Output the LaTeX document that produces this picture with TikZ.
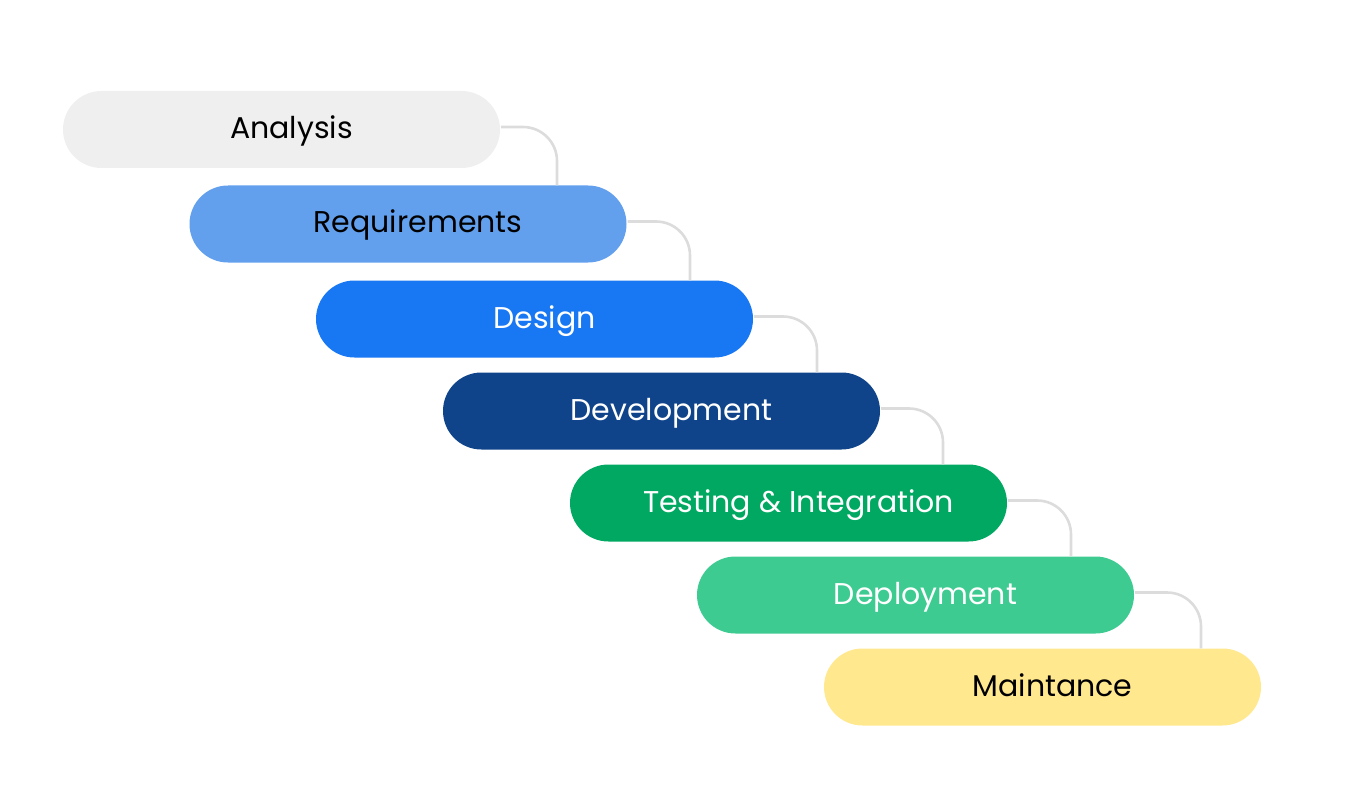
\documentclass[tikz,border=0pt]{standalone}
\usepackage{fontspec}
\setmainfont{Poppins}
\definecolor{cAna}{HTML}{EFEFEF}
\definecolor{cReq}{HTML}{62A0EE}
\definecolor{cDes}{HTML}{1877F2}
\definecolor{cDev}{HTML}{0F438A}
\definecolor{cTes}{HTML}{00A862}
\definecolor{cDep}{HTML}{3ECB92}
\definecolor{cMai}{HTML}{FFE88E}
\definecolor{cLine}{HTML}{DCDCDC}
\newcommand{\pilltext}[1]{\hspace*{20pt}\smash{\raisebox{-9pt}{#1}}}
\begin{document}
\begin{tikzpicture}[x=1pt,y=-1pt,
  pill/.style={draw=none, minimum width=437pt, minimum height=77pt, rounded corners=38.5pt, inner sep=0pt,
    font=\fontsize{30}{34}\selectfont, anchor=center},
  conn/.style={draw=cLine, line width=2.6pt, rounded corners=34pt}]
\useasboundingbox (0,0) rectangle (1366,797);
\node[pill, fill=cAna, text=black] (a) at (281.5,129.5) {\pilltext{Analysis}};
\node[pill, fill=cReq, text=black] (b) at (408,224) {\pilltext{Requirements}};
\node[pill, fill=cDes, text=white] (c) at (534.5,319) {\pilltext{Design}};
\node[pill, fill=cDev, text=white] (d) at (661.5,411) {\pilltext{Development}};
\node[pill, fill=cTes, text=white] (e) at (788.5,503) {\pilltext{Testing \& Integration}};
\node[pill, fill=cDep, text=white] (f) at (915.5,595) {\pilltext{Deployment}};
\node[pill, fill=cMai, text=black] (g) at (1042.5,687) {\pilltext{Maintance}};
\foreach \p/\q/\dx in {a/b/149,b/c/155.5,c/d/155.5,d/e/154.5,e/f/155.5,f/g/158.5}{
  \draw[conn] ([xshift=1pt,yshift=2.5pt]\p.east) -| ([xshift=\dx pt]\q.north);
}
\end{tikzpicture}
\end{document}
